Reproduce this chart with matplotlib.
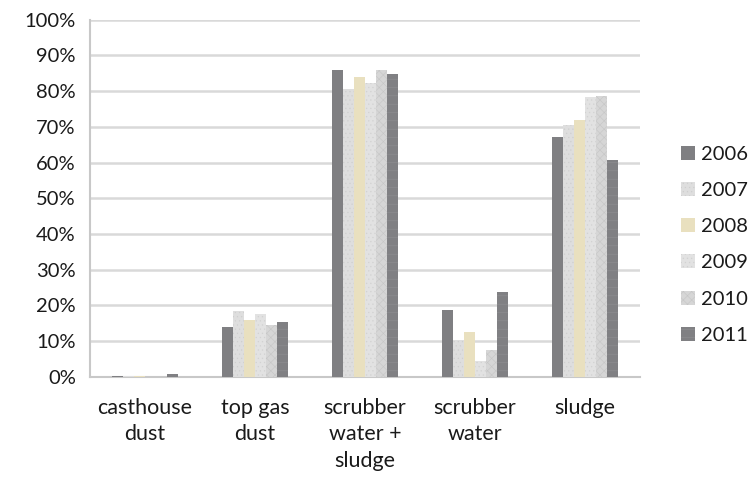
import numpy as np
import matplotlib.pyplot as plt

categories = ["casthouse\ndust", "top gas\ndust", "scrubber\nwater +\nsludge", "scrubber\nwater", "sludge"]
years = ["2006", "2007", "2008", "2009", "2010", "2011"]
v2006 = [0.3, 14.0, 85.8, 18.6, 67.1]
v2007 = [0.3, 18.5, 80.6, 10.4, 70.6]
v2008 = [0.3, 16.0, 83.9, 12.5, 71.8]
v2009 = [0.0, 17.5, 82.2, 4.5, 78.3]
v2010 = [0.0, 14.5, 85.8, 7.4, 78.6]
v2011 = [0.8, 15.5, 84.7, 23.7, 60.7]
series = [v2006, v2007, v2008, v2009, v2010, v2011]

colors = ["#7f7f82", "#dedede", "#e9e0bf", "#e2e2e2", "#d6d6d6", "#808083"]
hatches = [None, "....", None, "....", "xxxx", "--"]
hatch_cols = ["#7f7f82", "#cfcfcf", "#e9e0bf", "#d2d2d2", "#c6c6c6", "#909093"]

plt.rcParams["font.family"] = ["Lato", "DejaVu Sans"]
plt.rcParams["hatch.linewidth"] = 0.4

fig = plt.figure(figsize=(7.54, 4.82), dpi=100)
ax = fig.add_axes([0.119, 0.218, 0.73, 0.741])

x = np.arange(len(categories))
w = 0.1
for i, (vals, yr) in enumerate(zip(series, years)):
    ax.bar(x + (i - 2.5) * w, vals, w, color=colors[i], hatch=hatches[i],
           edgecolor=hatch_cols[i], linewidth=0, label=yr, zorder=3)

ax.set_ylim(0, 100)
ax.set_xlim(-0.5, 4.5)
ax.set_yticks(range(0, 101, 10))
ax.set_yticklabels([f"{t}%" for t in range(0, 101, 10)], fontsize=14.5, color="#1a1a1a")
ax.set_xticks(x)
ax.set_xticklabels(categories, fontsize=15.5, color="#1a1a1a", va="top", linespacing=1.4)
ax.tick_params(axis="both", length=0)
ax.tick_params(axis="y", pad=10)
ax.tick_params(axis="x", pad=15)
ax.grid(axis="y", color="#d9d9d9", linewidth=1.8, zorder=0)
for s in ["top", "right"]:
    ax.spines[s].set_visible(False)
for s in ["left", "bottom"]:
    ax.spines[s].set_color("#c8c8c8")
    ax.spines[s].set_linewidth(1.5)

leg = ax.legend(loc="center left", bbox_to_anchor=(1.048, 0.37), frameon=False,
                fontsize=14.5, handlelength=0.7, handleheight=0.7, labelspacing=0.95,
                handletextpad=0.3, borderpad=0.2)
for t in leg.get_texts():
    t.set_color("#1a1a1a")

fig.savefig("out.png", dpi=100)
